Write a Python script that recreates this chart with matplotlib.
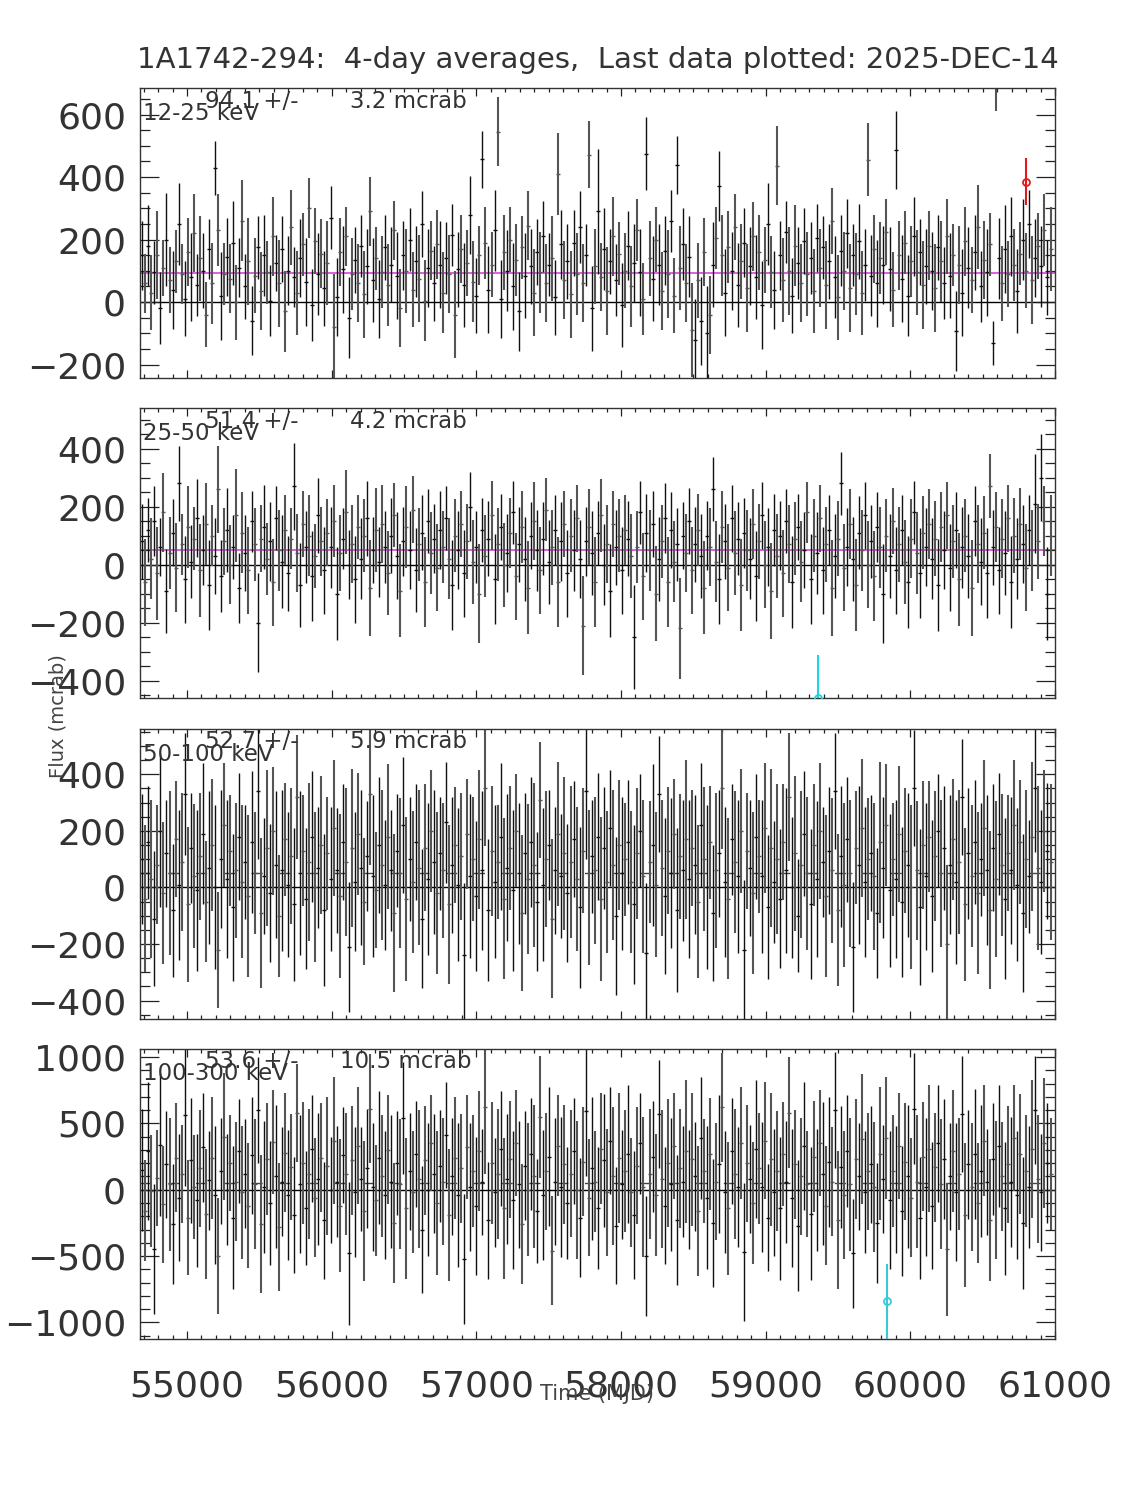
import numpy as np
import matplotlib.pyplot as plt
from matplotlib.ticker import MultipleLocator

# 4-day bins, one every ~21 days shown
T0 = 54690
STEP = 21

TITLE = "1A1742-294:  4-day averages,  Last data plotted: 2025-DEC-14"
BANDS = ["12-25 keV", "25-50 keV", "50-100 keV", "100-300 keV"]
MEANS = [94.1, 51.4, 52.7, 53.6]
MEAN_ERRS = [3.2, 4.2, 5.9, 10.5]
YLIMS = [(-243, 685), (-460, 540), (-465, 560), (-1125, 1060)]
YMAJOR = [200, 200, 200, 500]
YMINOR = [50, 50, 50, 100]

flux_12_25 = [
    150, 60, 180, 30, 95, 150, -20, 110, 200, 70, 40, 130, 250, 90, 10, 160, 80, 220, 55, 140,
    100, -40, 170, 60, 430, 230, 20, 90, 145, 75, 190, 0, 110, 260, 50, 130, -60, 85, 175, 35,
    150, 95, 5, 210, 125, 60, 170, -30, 100, 240, 80, 30, 140, 185, 65, 300, -10, 195, 90, 155,
    45, 125, 270, -80, 15, 160, 105, 210, -50, 90, 135, 60, 180, 25, 115, 290, 70, 140, 10, 95,
    175, 55, 120, 230, 85, -20, 150, 100, 200, 40, 130, 75, 250, 5, 110, 165, 60, 185, 120, 30,
    140, 90, 215, -40, 105, 170, 55, 125, 280, 65, 20, 150, 457, 190, 40, 120, 230, 545, 10, 160,
    100, 200, 50, 135, -30, 175, 85, 245, 115, 30, 160, 95, 210, 60, 120, 140, 15, 410, 185, 70,
    130, 25, 190, 90, 240, 60, 150, 472, -20, 115, 290, 80, 170, 35, 130, 210, 70, 155, -10, 100,
    180, 50, 125, 230, 95, 10, 475, 140, 75, 200, 120, 35, 165, 90, 260, 20, 440, 110, 185, 60,
    145, -90, -120, 70, -60, 160, -100, -40, 120, 205, 370, 150, 30, 175, 100, 240, 55, 130, 190, 45,
    115, 210, 80, 160, -10, 135, 250, 95, 40, 437, 150, 70, 225, 100, 20, 180, 125, 60, 195, 90,
    140, 35, 205, 110, 175, 55, 130, 260, 80, 15, 165, 100, 220, 45, 150, 90, 195, 30, 120, 456,
    85, 170, 60, 140, 120, 225, 105, 40, 486, 150, 75, 190, 20, 130, 210, 95, 160, 55, 115, 180,
    100, 45, 175, 130, 60, 210, 85, 150, -92, 120, 30, 195, 110, 70, 160, 240, 50, 135, 95, 185,
    -130, 720, 140, 60, 170, 90, 210, 120, 35, 155, 200, 100, 250, 70, 140, 180, 115, 230, 80, 170,
]
err_12_25 = [
    110, 95, 130, 120, 100, 140, 115, 90, 150, 105, 125, 100, 130, 95, 120, 110, 140, 125, 100, 135,
    120, 105, 95, 130, 87, 115, 140, 100, 125, 110, 135, 120, 95, 130, 105, 140, 110, 120, 100, 125,
    130, 100, 115, 125, 90, 140, 105, 130, 110, 120, 95, 135, 125, 100, 140, 96, 115, 105, 130, 110,
    120, 135, 100, 170, 125, 110, 140, 95, 130, 115, 105, 125, 100, 140, 120, 110, 135, 100, 125, 115,
    105, 130, 120, 95, 140, 125, 110, 135, 100, 120, 115, 140, 105, 130, 125, 95, 120, 110, 140, 130,
    115, 125, 100, 140, 120, 110, 135, 105, 125, 130, 120, 95, 92, 115, 140, 105, 130, 110, 125, 120,
    130, 105, 140, 115, 125, 100, 135, 110, 120, 140, 105, 130, 115, 125, 100, 135, 120, 130, 110, 125,
    120, 140, 105, 130, 115, 125, 100, 107, 135, 120, 200, 110, 130, 140, 105, 125, 115, 100, 135, 120,
    110, 130, 125, 100, 140, 115, 117, 120, 135, 105, 130, 125, 110, 140, 100, 120, 93, 135, 115, 125,
    130, 150, 130, 120, 140, 110, 150, 125, 135, 100, 112, 130, 140, 115, 125, 105, 135, 120, 110, 140,
    125, 110, 135, 120, 140, 105, 130, 115, 125, 126, 110, 135, 100, 140, 120, 130, 115, 125, 105, 135,
    115, 135, 110, 125, 100, 140, 120, 105, 130, 135, 115, 125, 110, 140, 100, 130, 120, 135, 115, 117,
    130, 110, 140, 115, 125, 105, 135, 120, 125, 110, 140, 100, 130, 115, 125, 135, 105, 140, 120, 110,
    125, 140, 105, 130, 115, 120, 135, 100, 128, 125, 140, 110, 130, 105, 120, 135, 115, 125, 140, 100,
    70, 110, 130, 120, 140, 105, 125, 115, 135, 100, 130, 120, 110, 140, 125, 105, 130, 115, 120, 135,
]

flux_25_50 = [
    80, -60, 120, 20, 150, -30, 60, 180, -90, 40, 110, -10, 280, 70, -50, 130, 10, 90, 160, -20,
    50, 140, -70, 100, 30, 260, -40, 80, 120, 0, 60, 170, -80, 110, 40, -20, 150, 70, -200, 90,
    130, 20, 80, -60, 160, 50, 10, 120, -30, 90, 270, 40, -70, 140, 60, 100, -40, 30, 170, 80,
    -20, 110, 60, 150, -100, 40, 90, 180, 0, 70, -50, 130, 20, 100, 160, -80, 50, 120, 10, 140,
    60, -30, 100, 170, 30, -90, 80, 130, 50, 190, -20, 70, 110, -60, 150, 40, 90, -10, 120, 60,
    160, 20, -70, 100, 50, 140, -30, 80, 200, 10, 60, -100, 120, 30, 90, 170, -50, 70, 130, 0,
    40, 110, 180, -40, 70, 130, 20, -80, 100, 150, 50, -20, 90, 190, 10, 60, 120, -60, 80, 140,
    -30, 100, 50, 160, 20, -210, 80, 130, 40, -60, 110, 170, 0, 70, -90, 140, 60, 100, -20, 120,
    90, 30, -250, 60, 180, -40, 110, 50, 140, -100, 20, 80, 160, -60, 120, 10, 70, -220, 100, 40,
    150, -20, 70, 120, 30, -80, 100, 60, 260, 10, -50, 130, 80, -10, 160, 40, 90, -70, 110, 50,
    20, 140, -40, 80, 170, 0, 60, -90, 120, 30, 100, -30, 150, 70, -60, 90, 130, 10, 50, 180,
    -50, 100, 40, 160, -20, 70, 120, -80, 30, 90, 280, -10, 60, 140, 20, -70, 110, 50, 170, 0,
    80, -40, 130, 60, -100, 100, 30, 150, -20, 70, 120, 10, -60, 90, 180, 40, -30, 110, 60, 140,
    20, 90, -70, 130, 50, 170, -10, 80, 120, -50, 60, 100, 30, -80, 150, 70, 10, 110, -30, 270,
    60, 130, -20, 90, 40, 160, -60, 100, 20, 140, 70, -10, 120, 50, 210, 80, 300, 150, -100, 100,
]
err_25_50 = [
    130, 150, 110, 140, 120, 160, 100, 135, 145, 125, 115, 155, 130, 105, 150, 140, 125, 110, 135, 160,
    120, 140, 155, 105, 130, 150, 125, 115, 145, 135, 110, 160, 120, 140, 130, 150, 105, 125, 170, 115,
    145, 125, 135, 150, 110, 140, 160, 120, 130, 105, 150, 135, 145, 115, 125, 140, 155, 110, 130, 120,
    150, 115, 140, 125, 160, 130, 105, 145, 120, 135, 150, 110, 140, 125, 130, 165, 115, 145, 120, 135,
    125, 145, 130, 110, 150, 160, 120, 140, 135, 115, 145, 125, 130, 155, 110, 140, 120, 150, 135, 125,
    110, 140, 155, 125, 135, 115, 150, 130, 120, 145, 125, 170, 110, 140, 130, 120, 155, 125, 115, 145,
    135, 120, 110, 150, 130, 125, 145, 160, 115, 135, 140, 150, 125, 110, 145, 130, 120, 155, 135, 115,
    150, 125, 140, 115, 135, 170, 120, 130, 145, 155, 110, 125, 140, 135, 160, 115, 130, 125, 150, 120,
    130, 145, 180, 125, 110, 150, 135, 140, 115, 165, 145, 125, 120, 155, 130, 140, 125, 175, 115, 135,
    115, 150, 130, 125, 145, 160, 120, 135, 110, 140, 155, 125, 130, 150, 115, 145, 125, 160, 120, 140,
    140, 120, 155, 130, 115, 150, 135, 165, 125, 145, 120, 150, 110, 135, 160, 125, 115, 140, 130, 105,
    155, 125, 140, 115, 150, 130, 120, 165, 145, 130, 110, 150, 135, 120, 145, 160, 125, 140, 115, 150,
    125, 155, 120, 140, 170, 125, 145, 115, 150, 130, 120, 145, 160, 135, 110, 140, 155, 125, 135, 120,
    140, 130, 160, 120, 135, 115, 150, 125, 130, 160, 140, 125, 145, 165, 120, 135, 150, 125, 155, 110,
    130, 120, 150, 135, 145, 115, 160, 130, 140, 125, 135, 150, 120, 140, 170, 130, 150, 120, 160, 140,
]

flux_50_100 = [
    100, -40, 160, 30, -110, 80, 200, -20, 120, 50, -80, 170, 10, 90, 330, -60, 140, 40, -10, 110,
    190, -50, 70, 150, 0, -220, 100, 220, 30, 130, -70, 60, 180, 20, 90, -30, 160, 50, 340, -90,
    40, 140, -20, 200, 80, -100, 60, 170, 10, 110, -60, 320, 50, 130, -40, 90, 180, 0, 70, 150,
    -80, 120, 30, 210, 60, -30, 160, 90, -210, 140, 20, 190, 70, -50, 110, 330, 40, -10, 150, 80,
    10, 180, 60, -90, 130, 50, 220, -40, 100, 20, 160, 70, -110, 140, 30, 200, 90, -20, 120, 60,
    230, -60, 80, 150, 10, 110, -240, 190, 40, 100, -30, 170, 60, 350, -80, 130, 20, 90, 180, -40,
    70, 140, -10, 200, 50, -90, 120, 30, 160, 80, -50, 310, 10, 100, 150, -110, 60, 190, 40, 120,
    -20, 90, 170, 30, -70, 130, 340, 0, 110, 60, 180, -40, 140, 20, 210, 80, -100, 150, 50, 100,
    160, 20, -60, 120, 200, 40, -230, 90, 150, 10, 330, 70, -30, 130, 50, 190, -80, 110, 60, 170,
    30, 140, 80, -50, 220, 100, 0, 160, -90, 60, 120, 350, 20, -40, 170, 90, 40, 200, -220, 130,
    70, -20, 180, 110, 40, 210, -70, 140, 20, 100, -40, 160, 60, 320, 0, 120, -100, 80, 190, 50,
    -60, 150, 30, 200, 90, -30, 130, 60, 340, -80, 110, 10, 170, 50, -210, 140, 80, 210, 20, 100,
    120, 40, -90, 160, 70, 220, -10, 100, 30, 190, -50, 130, 80, 0, 350, 60, -70, 150, 40, 180,
    -30, 110, 200, 50, 140, -200, 80, 170, 20, 90, 320, -60, 120, 40, 160, -20, 100, 210, 60, -80,
    140, 30, 190, 80, -40, 120, 60, 220, 10, 160, -90, 100, 40, 180, 350, 70, 20, 200, 130, 90,
]
err_50_100 = [
    230, 260, 200, 280, 240, 210, 270, 250, 190, 290, 235, 205, 265, 245, 215, 275, 195, 255, 285, 225,
    250, 215, 270, 235, 290, 205, 245, 220, 280, 195, 260, 240, 225, 270, 200, 285, 250, 215, 240, 265,
    205, 275, 245, 225, 260, 215, 285, 200, 255, 240, 270, 220, 290, 195, 250, 280, 230, 265, 215, 245,
    270, 200, 255, 240, 220, 290, 205, 260, 230, 280, 245, 215, 275, 225, 195, 250, 285, 205, 240, 265,
    230, 255, 215, 280, 200, 265, 240, 290, 220, 250, 205, 275, 245, 225, 270, 215, 255, 285, 200, 240,
    215, 280, 240, 205, 270, 225, 255, 195, 290, 220, 265, 245, 280, 205, 250, 230, 270, 200, 260, 285,
    260, 220, 285, 200, 250, 275, 215, 265, 230, 290, 245, 205, 270, 240, 195, 280, 225, 255, 220, 270,
    245, 270, 205, 255, 285, 220, 240, 275, 200, 260, 225, 290, 215, 250, 205, 265, 280, 230, 270, 200,
    220, 250, 280, 230, 200, 270, 245, 215, 285, 255, 205, 240, 275, 225, 265, 195, 290, 220, 250, 280,
    280, 205, 245, 270, 220, 255, 290, 200, 240, 275, 225, 215, 265, 285, 195, 250, 270, 220, 245, 205,
    240, 285, 220, 200, 270, 230, 255, 280, 215, 265, 245, 205, 290, 225, 250, 275, 200, 260, 220, 270,
    265, 215, 275, 240, 195, 285, 225, 255, 205, 270, 250, 290, 220, 260, 230, 200, 280, 245, 265, 215,
    205, 260, 230, 285, 250, 215, 270, 200, 280, 240, 265, 220, 255, 290, 205, 245, 275, 225, 260, 195,
    270, 230, 200, 260, 220, 280, 245, 215, 290, 255, 205, 270, 230, 250, 220, 285, 200, 240, 265, 280,
    225, 275, 215, 250, 285, 205, 260, 230, 270, 220, 280, 245, 200, 265, 225, 290, 255, 215, 240, 275,
]

flux_100_300 = [
    150, -160, 290, -10, -450, 90, 340, -110, 190, 40, -260, 240, -60, 120, 560, -210, 220, 20, -80, 160,
    320, -180, 70, 240, -40, -500, 140, 400, 0, 200, -210, 60, 290, -20, 120, -120, 260, 40, 600, -260,
    20, 230, -100, 360, 100, -280, 60, 280, -40, 170, -190, 580, 40, 200, -140, 120, 310, -60, 80, 240,
    -230, 180, 0, 370, 60, -120, 260, 120, -480, 220, -20, 330, 80, -160, 160, 610, 20, -80, 240, 100,
    -40, 300, 60, -250, 200, 40, 540, -140, 140, -20, 270, 80, -300, 220, 0, 350, 120, -100, 180, 60,
    410, -190, 100, 240, -40, 160, -520, 320, 20, 140, -120, 290, 60, 620, -230, 200, -20, 120, 310, -140,
    80, 230, -80, 350, 40, -260, 180, 0, 270, 100, -160, 550, -40, 140, 250, -460, 60, 330, 20, 190,
    -100, 120, 290, 0, -210, 210, 590, -60, 160, 60, -140, 310, 220, -20, 370, 100, -270, 240, 40, 140,
    270, -20, -190, 180, 350, 20, -500, 120, 250, -40, 570, 80, -120, 200, 40, 330, -230, 160, 60, 290,
    0, 230, 100, -160, 390, 140, -60, 270, -250, 60, 190, 620, -20, -140, 290, 120, 20, 350, -470, 200,
    80, -100, 310, 160, 20, 370, -210, 230, -20, 140, -140, 270, 60, 580, -60, 190, -270, 100, 330, 40,
    -180, 250, 0, 350, 120, -120, 210, 60, 600, -230, 170, -40, 290, 40, -480, 230, 100, 380, -20, 140,
    190, 20, -250, 270, 80, 390, -80, 140, 0, 330, -160, 210, 100, -60, 610, 60, -210, 250, 20, 310,
    -120, 170, 350, 40, 230, -450, 100, 290, -20, 120, 570, -190, 190, 20, 270, -100, 140, 370, 60, -230,
    230, 0, 330, 100, -140, 190, 60, 390, -40, 270, -250, 140, 20, 310, 600, 80, -20, 350, 200, 120,
]
err_100_300 = [
    460, 380, 520, 420, 490, 360, 540, 440, 400, 500, 450, 410, 480, 370, 530, 430, 470, 390, 500, 440,
    410, 490, 370, 460, 520, 440, 400, 480, 420, 360, 540, 450, 390, 500, 410, 470, 440, 490, 400, 520,
    500, 420, 470, 390, 540, 480, 410, 450, 490, 400, 440, 370, 520, 460, 430, 490, 400, 450, 500, 410,
    440, 520, 400, 480, 420, 500, 360, 460, 540, 410, 490, 440, 390, 530, 450, 410, 480, 420, 500, 460,
    480, 410, 500, 450, 390, 490, 420, 530, 440, 460, 400, 520, 480, 410, 500, 360, 450, 540, 420, 480,
    400, 500, 440, 460, 540, 410, 490, 390, 480, 420, 520, 450, 400, 500, 440, 460, 410, 490, 430, 530,
    490, 440, 520, 400, 480, 450, 410, 500, 420, 540, 390, 460, 490, 440, 520, 410, 480, 380, 530, 450,
    420, 480, 400, 520, 450, 410, 490, 440, 540, 380, 460, 420, 500, 480, 400, 520, 440, 490, 410, 460,
    520, 410, 480, 440, 380, 530, 450, 490, 420, 460, 410, 520, 440, 480, 500, 400, 490, 450, 420, 540,
    450, 500, 410, 490, 460, 390, 540, 420, 480, 440, 520, 410, 460, 500, 400, 490, 450, 420, 520, 440,
    410, 460, 520, 420, 490, 440, 400, 500, 480, 450, 540, 390, 460, 420, 520, 410, 490, 440, 480, 400,
    500, 420, 460, 400, 540, 450, 490, 410, 440, 520, 460, 480, 420, 500, 410, 450, 400, 490, 460, 440,
    440, 490, 450, 500, 410, 460, 520, 420, 480, 400, 490, 440, 540, 450, 420, 500, 460, 410, 520, 480,
    480, 410, 440, 490, 450, 500, 400, 460, 520, 420, 440, 540, 410, 480, 490, 450, 500, 420, 400, 460,
    420, 520, 460, 410, 500, 440, 490, 400, 480, 450, 500, 420, 460, 520, 410, 480, 440, 490, 450, 420,
]

# highlighted points
special_mjd = [60798, 59361, 59837]
special_flux = [385, -460, -842]
special_err = [75, 150, 280]
special_panel = [0, 1, 3]
special_color = ["#e0191e", "#1ed3dc", "#3cc8d2"]

FLUX = [flux_12_25, flux_25_50, flux_50_100, flux_100_300]
ERR = [err_12_25, err_25_50, err_50_100, err_100_300]

W, H = 1125, 1500
FONT = "DejaVu Sans"


def px_axes(top, bottom, left=140, right=1055):
    return [left / W, 1 - bottom / H, (right - left) / W, (bottom - top) / H]


def draw_panel(ax, k):
    flux = np.array(FLUX[k], dtype=float)
    err = np.array(ERR[k], dtype=float)
    t = T0 + STEP * np.arange(len(flux))
    ax.axhline(0, color="black", lw=1.0, zorder=1)
    if k < 2:
        ax.axhline(MEANS[k], color="#e040e0", lw=1.2, zorder=1)
    else:
        ax.axhline(MEANS[k], color="#444444", lw=1.0, ls=(0, (8, 12)), zorder=1)

    for parity, col, lw in [(0, "#101010", 1.0), (1, "#555555", 1.5)]:
        sel = np.arange(len(flux)) % 2 == parity
        ax.vlines(t[sel], flux[sel] - err[sel], flux[sel] + err[sel],
                  colors=col, lw=lw, zorder=2)
        ax.plot(t[sel], flux[sel], "_", color=col, ms=3, mew=1.0, zorder=2)

    for p, m, f, e, c in zip(special_panel, special_mjd, special_flux, special_err, special_color):
        if p == k:
            ax.vlines(m, f - e, f + e, colors=c, lw=1.5, zorder=3)
            ax.plot(m, f, "o", mfc="none", mec=c, ms=5, mew=1.3, zorder=3)

    ax.set_xlim(54675, 61000)
    ax.set_ylim(*YLIMS[k])
    ax.xaxis.set_major_locator(MultipleLocator(1000))
    ax.xaxis.set_minor_locator(MultipleLocator(100))
    ax.yaxis.set_major_locator(MultipleLocator(YMAJOR[k]))
    ax.yaxis.set_minor_locator(MultipleLocator(YMINOR[k]))
    ax.tick_params(axis="both", which="both", direction="in", top=True, right=True,
                   colors="#222222", width=0.9)
    ax.tick_params(axis="x", which="major", length=6, pad=22, labelsize=26)
    ax.tick_params(axis="x", which="minor", length=3)
    ax.tick_params(axis="y", which="major", length=14, pad=10, labelsize=26)
    ax.tick_params(axis="y", which="minor", length=7)
    for s in ax.spines.values():
        s.set_color("#333333")
        s.set_linewidth(1.0)
    if k < 3:
        ax.set_xticklabels([])
    for lab in ax.get_xticklabels() + ax.get_yticklabels():
        lab.set_color("#333333")


def main():
    plt.rcParams["font.family"] = [FONT]
    fig = plt.figure(figsize=(W / 100, H / 100), dpi=100)
    tops = [88, 408, 729, 1049]
    for k, top in enumerate(tops):
        ax = fig.add_axes(px_axes(top, top + 290))
        draw_panel(ax, k)
        # band label and mean flux overlap each other, as in the original plot
        fig.text(143 / W, 1 - (top + 25) / H, BANDS[k], fontsize=16.5,
                 color="#333333", va="center", ha="left")
        fig.text(205 / W, 1 - (top + 13) / H, f"{MEANS[k]:.1f} +/-", fontsize=16.5,
                 color="#333333", va="center", ha="left")
        xr = 350 if MEAN_ERRS[k] < 10 else 340
        fig.text(xr / W, 1 - (top + 13) / H, f"{MEAN_ERRS[k]:.1f} mcrab", fontsize=16.5,
                 color="#333333", va="center", ha="left")

    fig.text(598 / W, 1 - 60 / H, TITLE, fontsize=21, color="#333333",
             ha="center", va="center")
    fig.text(58 / W, 1 - 716 / H, "Flux (mcrab)", rotation=90, fontsize=14,
             color="#444444", ha="center", va="center")
    fig.text(597 / W, 1 - 1394 / H, "Time (MJD)", fontsize=15,
             color="#444444", ha="center", va="center")
    fig.savefig("out.png", dpi=100)


if __name__ == "__main__":
    main()
